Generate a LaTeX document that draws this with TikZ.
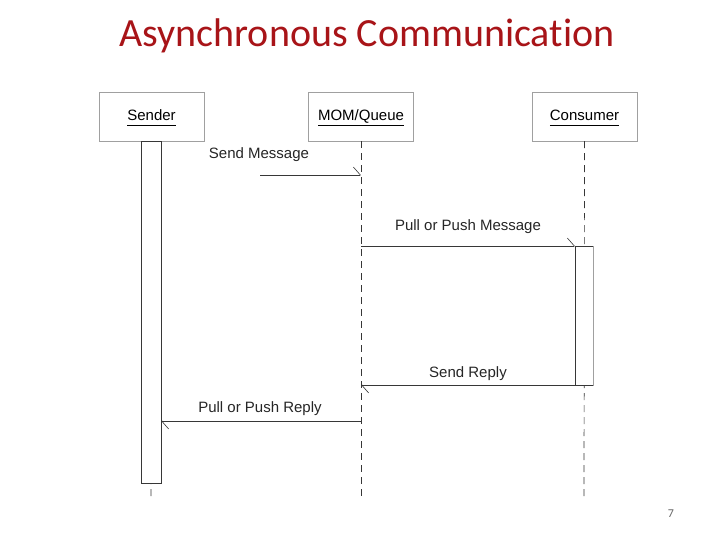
\documentclass[tikz,border=0pt]{standalone}
\usepackage{fontspec}
\setmainfont{Liberation Sans}
\newfontfamily\titlefont[Ligatures={NoCommon,NoRare,NoContextual}]{Carlito}
\usetikzlibrary{arrows.meta}
\definecolor{titlered}{RGB}{168,20,24}
\definecolor{lineclr}{RGB}{55,55,55}
\definecolor{boxclr}{RGB}{160,160,160}
\newcommand\actorname[1]{\underline{#1\vphantom{Q}}}
\begin{document}
\begin{tikzpicture}[x=1pt,y=-1pt,
  actor/.style={draw=boxclr,fill=white,minimum width=105pt,minimum height=49pt,inner sep=0pt,text height=14pt,text depth=5pt,font=\fontsize{15}{17}\selectfont},
  lifeline/.style={draw=lineclr,line width=0.7pt,dash pattern=on 7pt off 5pt},
  msg/.style={draw=lineclr,line width=0.8pt,-{Straight Barb[harpoon,length=7pt,width=16pt,line width=0.6pt]}},
  lbl/.style={font=\fontsize{15}{17}\selectfont,inner sep=0pt,text=black!85},
  activation/.style={draw=boxclr,fill=white,line width=0.6pt}]
\useasboundingbox (0,0) rectangle (720,540);
\fill[white] (0,0) rectangle (720,540);
% title
\node[font=\titlefont\fontsize{40}{46}\selectfont,text=titlered,anchor=base] (title) at (367,47) {Asynchronous Communication};
% actors
\node[actor] (sender) at (151.5,116.5) {\actorname{Sender}};
\node[actor] (mom) at (361,116.5) {\actorname{MOM/Queue}};
\node[actor] (consumer) at (584.5,116.5) {\actorname{Consumer}};
% lifelines
\coordinate (sL) at (151,498);
\coordinate (mL) at (361,498);
\coordinate (cL) at (584,498);
\draw[lifeline] (sender.south) -- (sL);
\draw[lifeline] (mom.south) -- (mL);
\draw[lifeline] (consumer.south) -- (cL);
% activation bars
\draw[activation,draw=lineclr] (141,141) rectangle (161,483);
\draw[activation] (575,246) rectangle (593,385);
\draw[lineclr,line width=0.8pt] (575,246) -- (575,385);
% messages
\coordinate (m1s) at (260,175);
\coordinate (m1e) at (361,175);
\coordinate (m2s) at (361,246);
\coordinate (m2e) at (575,246);
\coordinate (m2x) at (593,246);
\coordinate (m3s) at (575,385);
\coordinate (m3x) at (593,385);
\coordinate (m3e) at (361,385);
\coordinate (m4s) at (361,421);
\coordinate (m4e) at (161,421);
\draw[msg] (m1s) -- (m1e);
\draw[msg] (m2s) -- (m2e);
\draw[lineclr,line width=0.8pt] (m2e) -- (m2x);
\draw[msg] (m3s) -- (m3e);
\draw[lineclr,line width=0.8pt] (m3x) -- (m3s);
\draw[msg] (m4s) -- (m4e);
% labels
\node[lbl] (l1) at (259,154.5) {Send Message};
\node[lbl] (l2) at (468,226.5) {Pull or Push Message};
\node[lbl] (l3) at (468,373.5) {Send Reply};
\node[lbl] (l4) at (260,408.5) {Pull or Push Reply};
% page number
\node[font=\titlefont\fontsize{12}{14}\selectfont,text=black!60] (pg) at (671,514) {7};
\end{tikzpicture}
\end{document}
